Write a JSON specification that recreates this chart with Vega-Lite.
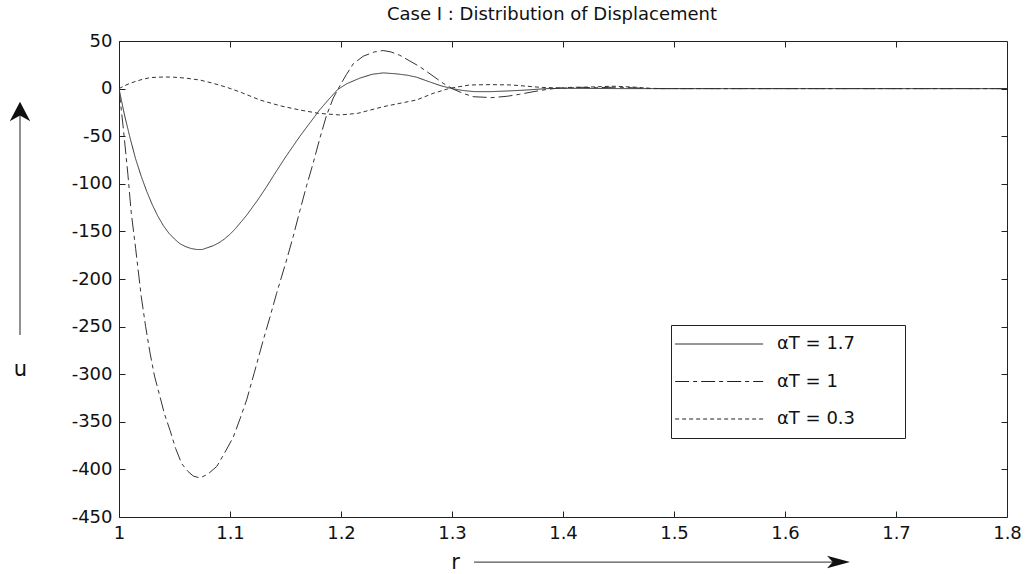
{
  "$schema": "https://vega.github.io/schema/vega-lite/v6.json",
  "width": 888,
  "height": 476,
  "autosize": {"type": "none"},
  "padding": {"left": 119, "top": 41, "right": 25, "bottom": 57},
  "background": "white",
  "title": {"text": "Case I : Distribution of Displacement", "font": "DejaVu Sans", "fontSize": 18, "fontWeight": "normal", "color": "#111", "offset": 8, "dx": -11, "anchor": "middle"},
  "config": {
    "view": {"stroke": "#222", "strokeWidth": 1},
    "axis": {"domain": false, "grid": false, "tickSize": -6, "tickColor": "#222", "labelPadding": 13, "labelFont": "DejaVu Sans", "labelFontSize": 18, "labelColor": "#111", "titleFont": "DejaVu Sans", "titleFontSize": 21, "titleFontWeight": "normal", "titleColor": "#111"}
  },
  "datasets": {
    "curves": [
      {"alpha": "1.7", "r": 1.000, "u": 0},
      {"alpha": "1.7", "r": 1.005, "u": -28},
      {"alpha": "1.7", "r": 1.010, "u": -52},
      {"alpha": "1.7", "r": 1.015, "u": -74},
      {"alpha": "1.7", "r": 1.020, "u": -92},
      {"alpha": "1.7", "r": 1.025, "u": -108},
      {"alpha": "1.7", "r": 1.030, "u": -122},
      {"alpha": "1.7", "r": 1.035, "u": -134},
      {"alpha": "1.7", "r": 1.040, "u": -144},
      {"alpha": "1.7", "r": 1.045, "u": -152},
      {"alpha": "1.7", "r": 1.050, "u": -158},
      {"alpha": "1.7", "r": 1.055, "u": -163},
      {"alpha": "1.7", "r": 1.060, "u": -166},
      {"alpha": "1.7", "r": 1.065, "u": -168},
      {"alpha": "1.7", "r": 1.070, "u": -169},
      {"alpha": "1.7", "r": 1.075, "u": -169},
      {"alpha": "1.7", "r": 1.080, "u": -167},
      {"alpha": "1.7", "r": 1.085, "u": -165},
      {"alpha": "1.7", "r": 1.090, "u": -162},
      {"alpha": "1.7", "r": 1.095, "u": -158},
      {"alpha": "1.7", "r": 1.100, "u": -153},
      {"alpha": "1.7", "r": 1.105, "u": -147},
      {"alpha": "1.7", "r": 1.110, "u": -140},
      {"alpha": "1.7", "r": 1.115, "u": -133},
      {"alpha": "1.7", "r": 1.120, "u": -125},
      {"alpha": "1.7", "r": 1.125, "u": -117},
      {"alpha": "1.7", "r": 1.133, "u": -103},
      {"alpha": "1.7", "r": 1.140, "u": -90},
      {"alpha": "1.7", "r": 1.150, "u": -72},
      {"alpha": "1.7", "r": 1.163, "u": -50},
      {"alpha": "1.7", "r": 1.172, "u": -36},
      {"alpha": "1.7", "r": 1.181, "u": -22},
      {"alpha": "1.7", "r": 1.190, "u": -10},
      {"alpha": "1.7", "r": 1.197, "u": -1},
      {"alpha": "1.7", "r": 1.205, "u": 5},
      {"alpha": "1.7", "r": 1.217, "u": 11},
      {"alpha": "1.7", "r": 1.228, "u": 15},
      {"alpha": "1.7", "r": 1.238, "u": 16.5},
      {"alpha": "1.7", "r": 1.250, "u": 15.5},
      {"alpha": "1.7", "r": 1.260, "u": 14},
      {"alpha": "1.7", "r": 1.268, "u": 12},
      {"alpha": "1.7", "r": 1.280, "u": 7},
      {"alpha": "1.7", "r": 1.290, "u": 3},
      {"alpha": "1.7", "r": 1.300, "u": 0},
      {"alpha": "1.7", "r": 1.310, "u": -2},
      {"alpha": "1.7", "r": 1.320, "u": -3.2},
      {"alpha": "1.7", "r": 1.335, "u": -3.2},
      {"alpha": "1.7", "r": 1.350, "u": -2.5},
      {"alpha": "1.7", "r": 1.367, "u": -1.5},
      {"alpha": "1.7", "r": 1.385, "u": 0},
      {"alpha": "1.7", "r": 1.400, "u": 0.3},
      {"alpha": "1.7", "r": 1.420, "u": 0.2},
      {"alpha": "1.7", "r": 1.450, "u": 0},
      {"alpha": "1.7", "r": 1.800, "u": 0},

      {"alpha": "1", "r": 1.000, "u": 0},
      {"alpha": "1", "r": 1.004, "u": -43},
      {"alpha": "1", "r": 1.008, "u": -90},
      {"alpha": "1", "r": 1.011, "u": -130},
      {"alpha": "1", "r": 1.015, "u": -168},
      {"alpha": "1", "r": 1.020, "u": -218},
      {"alpha": "1", "r": 1.024, "u": -250},
      {"alpha": "1", "r": 1.028, "u": -278},
      {"alpha": "1", "r": 1.032, "u": -302},
      {"alpha": "1", "r": 1.037, "u": -324},
      {"alpha": "1", "r": 1.041, "u": -342},
      {"alpha": "1", "r": 1.046, "u": -359},
      {"alpha": "1", "r": 1.051, "u": -378},
      {"alpha": "1", "r": 1.0565, "u": -394},
      {"alpha": "1", "r": 1.062, "u": -402},
      {"alpha": "1", "r": 1.067, "u": -407},
      {"alpha": "1", "r": 1.073, "u": -409},
      {"alpha": "1", "r": 1.080, "u": -405},
      {"alpha": "1", "r": 1.088, "u": -397},
      {"alpha": "1", "r": 1.095, "u": -383},
      {"alpha": "1", "r": 1.103, "u": -366},
      {"alpha": "1", "r": 1.109, "u": -347},
      {"alpha": "1", "r": 1.115, "u": -327},
      {"alpha": "1", "r": 1.122, "u": -298},
      {"alpha": "1", "r": 1.130, "u": -264},
      {"alpha": "1", "r": 1.136, "u": -240},
      {"alpha": "1", "r": 1.142, "u": -215},
      {"alpha": "1", "r": 1.151, "u": -180},
      {"alpha": "1", "r": 1.157, "u": -155},
      {"alpha": "1", "r": 1.163, "u": -128},
      {"alpha": "1", "r": 1.169, "u": -102},
      {"alpha": "1", "r": 1.175, "u": -78},
      {"alpha": "1", "r": 1.181, "u": -52},
      {"alpha": "1", "r": 1.187, "u": -28},
      {"alpha": "1", "r": 1.193, "u": -10},
      {"alpha": "1", "r": 1.199, "u": 3},
      {"alpha": "1", "r": 1.205, "u": 15},
      {"alpha": "1", "r": 1.211, "u": 26},
      {"alpha": "1", "r": 1.220, "u": 34},
      {"alpha": "1", "r": 1.230, "u": 38.5},
      {"alpha": "1", "r": 1.238, "u": 40},
      {"alpha": "1", "r": 1.245, "u": 38.5},
      {"alpha": "1", "r": 1.253, "u": 35},
      {"alpha": "1", "r": 1.262, "u": 29},
      {"alpha": "1", "r": 1.271, "u": 23},
      {"alpha": "1", "r": 1.282, "u": 14},
      {"alpha": "1", "r": 1.292, "u": 5.6},
      {"alpha": "1", "r": 1.301, "u": -0.5},
      {"alpha": "1", "r": 1.310, "u": -5},
      {"alpha": "1", "r": 1.319, "u": -8.5},
      {"alpha": "1", "r": 1.336, "u": -9.5},
      {"alpha": "1", "r": 1.350, "u": -8},
      {"alpha": "1", "r": 1.361, "u": -6},
      {"alpha": "1", "r": 1.372, "u": -3.5},
      {"alpha": "1", "r": 1.382, "u": -1.5},
      {"alpha": "1", "r": 1.395, "u": 0.5},
      {"alpha": "1", "r": 1.410, "u": 1.5},
      {"alpha": "1", "r": 1.430, "u": 1},
      {"alpha": "1", "r": 1.450, "u": 1.5},
      {"alpha": "1", "r": 1.470, "u": 0.5},
      {"alpha": "1", "r": 1.490, "u": 0},
      {"alpha": "1", "r": 1.800, "u": 0},

      {"alpha": "0.3", "r": 1.000, "u": 0},
      {"alpha": "0.3", "r": 1.005, "u": 3},
      {"alpha": "0.3", "r": 1.010, "u": 5.6},
      {"alpha": "0.3", "r": 1.016, "u": 8},
      {"alpha": "0.3", "r": 1.022, "u": 10},
      {"alpha": "0.3", "r": 1.028, "u": 11.5},
      {"alpha": "0.3", "r": 1.035, "u": 12},
      {"alpha": "0.3", "r": 1.042, "u": 12.2},
      {"alpha": "0.3", "r": 1.049, "u": 12},
      {"alpha": "0.3", "r": 1.060, "u": 11},
      {"alpha": "0.3", "r": 1.073, "u": 9},
      {"alpha": "0.3", "r": 1.085, "u": 5.5},
      {"alpha": "0.3", "r": 1.097, "u": 1.4},
      {"alpha": "0.3", "r": 1.110, "u": -4},
      {"alpha": "0.3", "r": 1.127, "u": -12},
      {"alpha": "0.3", "r": 1.145, "u": -18},
      {"alpha": "0.3", "r": 1.163, "u": -22.5},
      {"alpha": "0.3", "r": 1.180, "u": -26},
      {"alpha": "0.3", "r": 1.199, "u": -27.7},
      {"alpha": "0.3", "r": 1.215, "u": -26},
      {"alpha": "0.3", "r": 1.238, "u": -19},
      {"alpha": "0.3", "r": 1.255, "u": -15},
      {"alpha": "0.3", "r": 1.268, "u": -12},
      {"alpha": "0.3", "r": 1.283, "u": -5},
      {"alpha": "0.3", "r": 1.295, "u": -0.7},
      {"alpha": "0.3", "r": 1.301, "u": 1},
      {"alpha": "0.3", "r": 1.316, "u": 3.8},
      {"alpha": "0.3", "r": 1.335, "u": 4.2},
      {"alpha": "0.3", "r": 1.354, "u": 3.8},
      {"alpha": "0.3", "r": 1.379, "u": 1.4},
      {"alpha": "0.3", "r": 1.400, "u": 0.5},
      {"alpha": "0.3", "r": 1.420, "u": 1.5},
      {"alpha": "0.3", "r": 1.445, "u": 2.5},
      {"alpha": "0.3", "r": 1.465, "u": 1.5},
      {"alpha": "0.3", "r": 1.480, "u": 0},
      {"alpha": "0.3", "r": 1.800, "u": 0}
    ],
    "arrowLines": [
      {"axis": "r", "r": 1.3198, "u": -497.3, "r2": 1.648, "u2": -497.3},
      {"axis": "u", "r": 0.9108, "u": -258.8, "r2": 0.9108, "u2": -25}
    ],
    "arrowUp": [{"axis": "u", "r": 0.9108, "u": -24.6}],
    "arrowRight": [{"axis": "r", "r": 1.6482, "u": -497.3}]
  },
  "layer": [
    {
      "data": {"name": "curves"},
      "mark": {"type": "line", "strokeWidth": 1, "color": "#333", "clip": true},
      "encoding": {
        "x": {"field": "r", "type": "quantitative", "scale": {"domain": [1, 1.8], "nice": false, "zero": false},
              "axis": {"orient": "bottom", "values": [1, 1.1, 1.2, 1.3, 1.4, 1.5, 1.6, 1.7, 1.8], "format": "~g", "title": "r", "titleX": 336, "titleY": 45, "titleAlign": "center", "titleBaseline": "middle", "labelFlush": false}},
        "y": {"field": "u", "type": "quantitative", "scale": {"domain": [-450, 50], "nice": false, "zero": false},
              "axis": {"orient": "left", "values": [50, 0, -50, -100, -150, -200, -250, -300, -350, -400, -450], "labelExpr": "datum.value < 0 ? '-' + abs(datum.value) : '' + datum.value", "title": "u", "titleAngle": 0, "titleX": -99, "titleY": 328, "titleAlign": "center", "titleBaseline": "middle"}},
        "strokeDash": {"field": "alpha", "type": "nominal", "scale": {"domain": ["1.7", "1", "0.3"], "range": [[1, 0], [14, 4, 4, 4], [4, 3]]},
              "legend": {"orient": "none", "legendX": 552, "legendY": 284, "title": null, "strokeColor": "#222", "fillColor": "white", "padding": 10, "rowPadding": 19.5, "symbolType": "M-2.7,0H13.3", "symbolSize": 121, "symbolStrokeWidth": 1, "symbolStrokeColor": "#222", "symbolFillColor": "transparent", "labelFont": "DejaVu Sans", "labelFontSize": 18, "labelColor": "#111", "labelOffset": 78, "labelExpr": "'αT = ' + datum.label + '\u2800\u2800\u2800'"}}
      }
    },
    {
      "data": {"name": "curves"},
      "mark": {"type": "point", "opacity": 0},
      "encoding": {
        "x": {"field": "r", "type": "quantitative", "scale": {"domain": [1, 1.8], "nice": false, "zero": false},
              "axis": {"orient": "top", "values": [1.1, 1.2, 1.3, 1.4, 1.5, 1.6, 1.7], "labels": false, "title": null}},
        "y": {"field": "u", "type": "quantitative", "scale": {"domain": [-450, 50], "nice": false, "zero": false},
              "axis": {"orient": "right", "values": [0, -50, -100, -150, -200, -250, -300, -350, -400], "labels": false, "title": null}}
      }
    },
    {
      "data": {"name": "arrowLines"},
      "mark": {"type": "rule", "strokeWidth": 1.3, "color": "#555", "clip": false},
      "encoding": {
        "x": {"field": "r", "type": "quantitative", "scale": {"domain": [1, 1.8], "nice": false, "zero": false}, "axis": null},
        "x2": {"field": "r2"},
        "y": {"field": "u", "type": "quantitative", "scale": {"domain": [-450, 50], "nice": false, "zero": false}, "axis": null},
        "y2": {"field": "u2"}
      }
    },
    {
      "data": {"name": "arrowUp"},
      "mark": {"type": "point", "shape": "M0,-1L1,0.9L0,0.35L-1,0.9Z", "size": 420, "filled": true, "color": "#111", "opacity": 1, "clip": false},
      "encoding": {
        "x": {"field": "r", "type": "quantitative", "scale": {"domain": [1, 1.8], "nice": false, "zero": false}, "axis": null},
        "y": {"field": "u", "type": "quantitative", "scale": {"domain": [-450, 50], "nice": false, "zero": false}, "axis": null}
      }
    },
    {
      "data": {"name": "arrowRight"},
      "mark": {"type": "point", "shape": "M1,0L-1,0.55L-0.5,0L-1,-0.55Z", "size": 529, "filled": true, "color": "#111", "opacity": 1, "clip": false},
      "encoding": {
        "x": {"field": "r", "type": "quantitative", "scale": {"domain": [1, 1.8], "nice": false, "zero": false}, "axis": null},
        "y": {"field": "u", "type": "quantitative", "scale": {"domain": [-450, 50], "nice": false, "zero": false}, "axis": null}
      }
    }
  ],
  "resolve": {"axis": {"x": "independent", "y": "independent"}}
}
